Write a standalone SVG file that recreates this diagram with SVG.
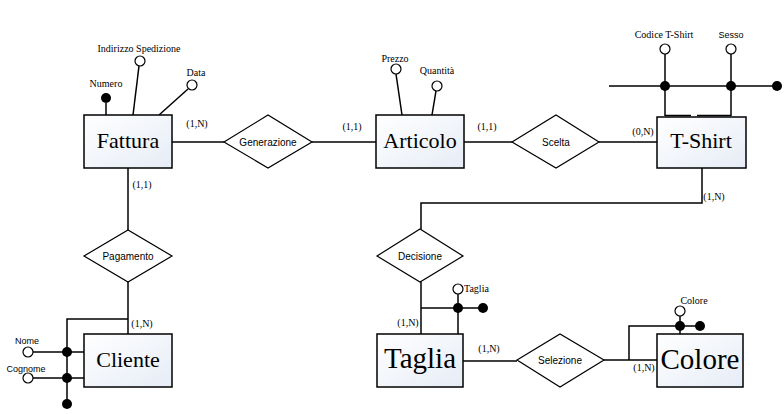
<svg xmlns="http://www.w3.org/2000/svg" width="784" height="414" viewBox="0 0 784 414">
<defs>
<linearGradient id="eg" x1="0" y1="0" x2="1" y2="1">
<stop offset="0" stop-color="#ffffff"/>
<stop offset="1" stop-color="#e6ecf6"/>
</linearGradient>
</defs>
<style>
.ent{fill:url(#eg);stroke:#000;stroke-width:1.5}
.rel{fill:#fff;stroke:#000;stroke-width:1.2}
.ln{fill:none;stroke:#000;stroke-width:1.5}
.ow{fill:#fff;stroke:#000;stroke-width:1.2}
.fd{fill:#000}
.et{font-family:"Liberation Serif",serif;font-size:22px;text-anchor:middle}
.eb{font-family:"Liberation Serif",serif;font-size:29px;text-anchor:middle}
.rt{font-family:"Liberation Sans",sans-serif;font-size:10px;text-anchor:middle}
.at{font-family:"Liberation Serif",serif;font-size:10px;text-anchor:middle}
.as{font-family:"Liberation Sans",sans-serif;font-size:9px;text-anchor:middle}
.cd{font-family:"Liberation Serif",serif;font-size:10px;text-anchor:middle}
</style>
<rect width="784" height="414" fill="#fff"/>
<g id="connectors">
<path class="ln" d="M172,142H224"/>
<path class="ln" d="M312,142H376"/>
<path class="ln" d="M464,142H512"/>
<path class="ln" d="M599,142H657"/>
<path class="ln" d="M128,168V230"/>
<path class="ln" d="M128,282V334"/>
<path class="ln" d="M702,168V203H421V229"/>
<path class="ln" d="M421,282V334"/>
<path class="ln" d="M463,361H517"/>
<path class="ln" d="M604,360H657"/>
<text class="cd" x="197" y="127">(1,N)</text>
<text class="cd" x="352" y="130">(1,1)</text>
<text class="cd" x="487" y="130">(1,1)</text>
<text class="cd" x="643" y="135">(0,N)</text>
<text class="cd" x="142" y="188">(1,1)</text>
<text class="cd" x="142" y="327">(1,N)</text>
<text class="cd" x="714" y="200">(1,N)</text>
<text class="cd" x="408" y="326">(1,N)</text>
<text class="cd" x="489" y="352">(1,N)</text>
<text class="cd" x="644" y="371">(1,N)</text>
</g>
<g id="fattura">
<path class="ln" d="M106,103V115"/>
<circle class="fd" cx="106" cy="98" r="5"/>
<text class="at" x="106" y="87">Numero</text>
<path class="ln" d="M139,66L133,115"/>
<circle class="ow" cx="140" cy="61" r="5"/>
<text class="at" x="139" y="52">Indirizzo Spedizione</text>
<path class="ln" d="M188,89L159,115"/>
<circle class="ow" cx="192" cy="85" r="5"/>
<text class="at" x="196" y="76">Data</text>
<rect class="ent" x="84" y="115" width="88" height="53"/>
<text class="et" x="128" y="148">Fattura</text>
</g>
<g id="generazione">
<polygon class="rel" points="224,142 268,115 312,142 268,168"/>
<text class="rt" x="268" y="145.5">Generazione</text>
</g>
<g id="articolo">
<path class="ln" d="M396,74L402,115"/>
<circle class="ow" cx="396" cy="69" r="5"/>
<text class="at" x="395" y="62">Prezzo</text>
<path class="ln" d="M436,91L432,115"/>
<circle class="ow" cx="437" cy="86" r="5"/>
<text class="at" x="437" y="74">Quantità</text>
<rect class="ent" x="376" y="115" width="88" height="53"/>
<text class="et" x="420" y="148">Articolo</text>
</g>
<g id="scelta">
<polygon class="rel" points="512,142 556,115 599,142 556,168"/>
<text class="rt" x="556" y="145.5">Scelta</text>
</g>
<g id="tshirt">
<path class="ln" d="M609,86H777"/>
<path class="ln" d="M665,54V116"/>
<path class="ln" d="M731,54V116"/>
<path class="ln" d="M665,115.5H691M697,115.5H731" stroke-width="2"/>
<circle class="ow" cx="665" cy="49" r="5"/>
<circle class="ow" cx="731" cy="49" r="5"/>
<circle class="fd" cx="665" cy="86" r="5"/>
<circle class="fd" cx="731" cy="86" r="5"/>
<circle class="fd" cx="777" cy="86" r="5"/>
<text class="at" x="664" y="38">Codice T-Shirt</text>
<text class="as" x="731" y="38">Sesso</text>
<rect class="ent" x="657" y="117" width="89" height="51"/>
<text class="et" x="701" y="148">T-Shirt</text>
</g>
<g id="pagamento">
<polygon class="rel" points="84,256 128,230 172,256 128,282"/>
<text class="rt" x="128" y="259.5">Pagamento</text>
</g>
<g id="cliente">
<path class="ln" d="M128,319H67V404"/>
<path class="ln" d="M33,352H84"/>
<path class="ln" d="M33,378H84"/>
<circle class="ow" cx="28" cy="352" r="5"/>
<circle class="ow" cx="28" cy="378" r="5"/>
<circle class="fd" cx="67" cy="352" r="5"/>
<circle class="fd" cx="67" cy="378" r="5"/>
<circle class="fd" cx="67" cy="404" r="5"/>
<text class="as" x="27" y="344">Nome</text>
<text class="as" x="26" y="372">Cognome</text>
<rect class="ent" x="84" y="334" width="88" height="53"/>
<text class="et" x="128" y="367">Cliente</text>
</g>
<g id="decisione">
<polygon class="rel" points="377,256 420,229 463,256 420,282"/>
<text class="rt" x="420" y="259.5">Decisione</text>
</g>
<g id="taglia">
<path class="ln" d="M421,308H483"/>
<path class="ln" d="M458,294V334"/>
<circle class="ow" cx="458" cy="289" r="5"/>
<circle class="fd" cx="458" cy="308" r="5"/>
<circle class="fd" cx="483" cy="308" r="5"/>
<text class="at" x="464" y="292" style="text-anchor:start">Taglia</text>
<rect class="ent" x="377" y="334" width="86" height="53"/>
<text class="eb" x="420" y="368">Taglia</text>
</g>
<g id="selezione">
<polygon class="rel" points="517,360 560,334 604,360 560,387"/>
<text class="rt" x="560" y="364">Selezione</text>
</g>
<g id="colore">
<path class="ln" d="M629,360V326H700"/>
<path class="ln" d="M680,316V334"/>
<circle class="ow" cx="680" cy="311" r="5"/>
<circle class="fd" cx="680" cy="326" r="5"/>
<circle class="fd" cx="700" cy="326" r="5"/>
<text class="at" x="694" y="304">Colore</text>
<rect class="ent" x="657" y="334" width="86" height="53"/>
<text class="eb" x="700" y="369">Colore</text>
</g>
</svg>
